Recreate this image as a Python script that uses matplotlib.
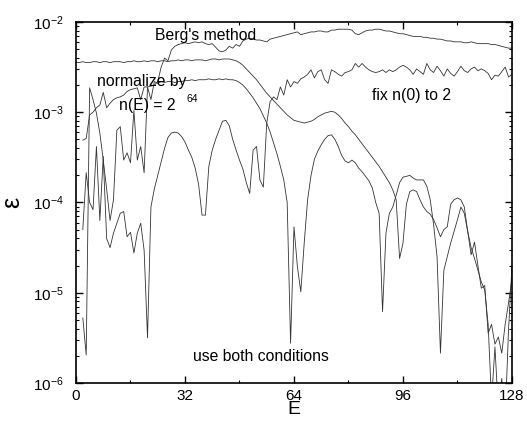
#!/usr/bin/env python3
"""Relative error of the density of states vs energy for four estimators."""

import numpy as np
import matplotlib
matplotlib.use('Agg')
import matplotlib.pyplot as plt
from matplotlib.ticker import MultipleLocator, FixedLocator, LogLocator

plt.rcParams.update({
    'font.family': ['Liberation Sans', 'DejaVu Sans'],
    'mathtext.fontset': 'custom',
    'mathtext.rm': 'Liberation Sans',
    'mathtext.it': 'Liberation Sans:italic',
    'font.size': 11,
    'axes.linewidth': 1.2,
})

# log10(epsilon), one value per integer E
NORM_E0 = 0
NORM_LOG = [
    -2.45, -2.45, -2.44, -2.45, -2.45, -2.44, -2.44, -2.45, -2.44, -2.44,
    -2.45, -2.44, -2.44, -2.44, -2.45, -2.44, -2.44, -2.43, -2.44, -2.44,
    -2.43, -2.44, -2.43, -2.43, -2.44, -2.43, -2.43, -2.44, -2.43, -2.43,
    -2.42, -2.43, -2.42, -2.42, -2.43, -2.42, -2.42, -2.42, -2.43, -2.42,
    -2.41, -2.41, -2.42, -2.41, -2.41, -2.41, -2.42, -2.43, -2.45, -2.48,
    -2.52, -2.56, -2.60, -2.64, -2.69, -2.74, -2.79, -2.83, -2.87, -2.91,
    -2.95, -2.99, -3.03, -3.06, -3.09, -3.10, -3.11, -3.12, -3.11, -3.10,
    -3.08, -3.05, -3.03, -3.01, -3.00, -2.99, -3.00, -3.03, -3.07, -3.12,
    -3.16, -3.21, -3.25, -3.30, -3.35, -3.40, -3.45, -3.50, -3.55, -3.60,
    -3.66, -3.72, -3.78, -3.86, -3.97, -4.62, -4.45, -4.02, -3.88, -3.86,
    -3.88, -3.97, -4.05, -4.10, -4.13, -4.19, -4.28, -4.38, -4.30, -4.27,
    -4.02, -3.97, -3.95, -3.97, -4.05, -4.32, -4.58, -4.44, -4.70, -4.95,
    -4.92, -5.45, -5.35, -5.57, -5.49, -5.67, -5.35, -5.11, -4.85,
]

BERG_E0 = 2
BERG_LOG = [
    -3.31, -3.29, -3.03, -3.00, -2.95, -2.92, -2.78, -2.95, -2.90, -2.86,
    -2.84, -2.83, -2.81, -2.77, -2.75, -2.74, -2.73, -2.86, -2.72, -2.72,
    -2.71, -2.70, -2.66, -2.50, -2.40, -2.43, -2.31, -2.27, -2.25, -2.24,
    -2.23, -2.24, -2.23, -2.22, -2.23, -2.22, -2.24, -2.25, -2.24, -2.28,
    -2.32, -2.33, -2.31, -2.27, -2.29, -2.25, -2.27, -2.21, -2.19, -2.18,
    -2.19, -2.20, -2.20, -2.21, -2.22, -2.19, -2.18, -2.17, -2.16, -2.15,
    -2.14, -2.13, -2.12, -2.11, -2.14, -2.13, -2.12, -2.11, -2.11, -2.10,
    -2.10, -2.11, -2.11, -2.09, -2.09, -2.08, -2.08, -2.08, -2.08, -2.09,
    -2.13, -2.14, -2.12, -2.10, -2.09, -2.09, -2.08, -2.08, -2.09, -2.10,
    -2.10, -2.11, -2.12, -2.13, -2.13, -2.14, -2.15, -2.16, -2.16, -2.16,
    -2.17, -2.17, -2.18, -2.18, -2.19, -2.19, -2.20, -2.21, -2.21, -2.22,
    -2.22, -2.22, -2.23, -2.23, -2.22, -2.23, -2.24, -2.24, -2.24, -2.24,
    -2.25, -2.25, -2.26, -2.27, -2.28, -2.29, -2.29,
]

FIX_E0 = 2
FIX_LOG = [
    -4.30, -3.67, -4.00, -4.08, -3.38, -4.20, -3.49, -4.40, -4.50, -4.34,
    -4.23, -4.12, -4.10, -4.38, -4.33, -4.56, -4.34, -4.23, -4.53, -5.50,
    -4.05, -3.85, -3.70, -3.55, -3.40, -3.28, -3.23, -3.22, -3.23, -3.27,
    -3.33, -3.42, -3.50, -3.62, -3.80, -4.14, -4.14, -3.60, -3.42, -3.30,
    -3.20, -3.10, -3.09, -3.15, -3.30, -3.42, -3.53, -3.63, -3.78, -3.90,
    -3.42, -3.38, -3.75, -3.83, -3.12, -2.88, -2.83, -2.86, -2.72, -2.81,
    -2.64, -2.72, -2.66, -2.68, -2.63, -2.61, -2.58, -2.53, -2.62, -2.55,
    -2.53, -2.64, -2.68, -2.53, -2.55, -2.58, -2.60, -2.56, -2.55, -2.53,
    -2.46, -2.50, -2.46, -2.50, -2.53, -2.55, -2.56, -2.55, -2.53, -2.56,
    -2.53, -2.55, -2.53, -2.50, -2.48, -2.50, -2.53, -2.58, -2.52, -2.55,
    -2.58, -2.46, -2.53, -2.56, -2.49, -2.54, -2.60, -2.52, -2.57, -2.60,
    -2.55, -2.49, -2.54, -2.56, -2.52, -2.50, -2.54, -2.52, -2.54, -2.57,
    -2.64, -2.59, -2.60, -2.55, -2.50, -2.61, -2.58,
]

BOTH_E0 = 2
BOTH_LOG = [
    -5.28, -5.69, -2.73, -2.86, -3.01, -3.23, -3.53, -3.85, -4.20, -3.97,
    -3.20, -3.16, -3.53, -3.45, -3.56, -2.98, -3.53, -3.38, -3.67, -2.72,
    -2.86, -2.66, -2.68, -2.66, -2.67, -2.66, -2.66, -2.67, -2.66, -2.66,
    -2.65, -2.65, -2.64, -2.65, -2.64, -2.64, -2.64, -2.63, -2.64, -2.64,
    -2.63, -2.64, -2.63, -2.64, -2.64, -2.65, -2.67, -2.70, -2.74, -2.79,
    -2.84, -2.90, -2.96, -3.04, -3.12, -3.22, -3.34, -3.46, -3.60, -3.75,
    -4.00, -5.56, -4.27, -4.71, -4.99, -4.45, -3.97, -3.70, -3.52, -3.43,
    -3.36, -3.30, -3.26, -3.25, -3.30, -3.38, -3.48, -3.54, -3.56, -3.53,
    -3.56, -3.62, -3.66, -3.71, -3.76, -3.84, -4.00, -4.12, -5.21, -4.34,
    -4.12, -4.05, -3.92, -3.78, -3.72, -3.71, -3.70, -3.73, -3.75, -3.75,
    -3.75, -3.82, -3.97, -4.25, -4.60, -5.67, -4.75, -4.60, -4.45, -4.32,
    -4.19, -4.05, -4.12, -4.32, -4.50, -4.62, -4.75, -4.88, -4.97, -5.35,
    -6.20, -5.60, -6.30, -5.95, -6.40, -5.40, -4.70,
]

SERIES = [
    ("Berg's method", BERG_E0, BERG_LOG),
    ('normalize by n(E) = 2^64', NORM_E0, NORM_LOG),
    ('fix n(0) to 2', FIX_E0, FIX_LOG),
    ('use both conditions', BOTH_E0, BOTH_LOG),
]

X_TICKS = [0, 32, 64, 96, 128]


def make_figure():
    fig = plt.figure(figsize=(5.27, 4.21), dpi=100)
    ax = fig.add_axes([0.1442, 0.0903, 0.8273, 0.8575])

    for name, e0, logs in SERIES:
        eps = np.power(10.0, np.asarray(logs))
        energy = e0 + np.arange(len(eps))
        ax.plot(energy, eps, '-', color='#333333', lw=0.6)

    ax.set_yscale('log')
    ax.set_xlim(0, 128)
    ax.set_ylim(1e-6, 1e-2)
    ax.xaxis.set_major_locator(FixedLocator(X_TICKS))
    ax.xaxis.set_minor_locator(MultipleLocator(16))
    ax.yaxis.set_major_locator(LogLocator(base=10, numticks=10))
    ax.yaxis.set_minor_locator(LogLocator(base=10, subs=np.arange(2, 10),
                                          numticks=20))
    ax.tick_params(axis='both', which='major', direction='in', top=True,
                   right=True, length=5, width=1.0, labelsize=11)
    ax.tick_params(axis='both', which='minor', direction='in', top=True,
                   right=True, length=2.5, width=0.8)
    ax.tick_params(axis='y', which='major', pad=9)
    ax.tick_params(axis='x', which='major', pad=4)

    ax.set_xlabel('E', fontsize=14, labelpad=-1)
    ax.set_ylabel('ε', fontsize=18, rotation=90, labelpad=6)

    # curve labels
    ax.text(23.2, 10 ** -2.15, "Berg's method", fontsize=11.3, va='center')
    ax.text(6.2, 10 ** -2.654, 'normalize by', fontsize=11.3, va='center')
    ax.text(12.5, 10 ** -2.92, 'n(E) = 2', fontsize=11.3, va='center')
    ax.text(32.3, 10 ** -2.853, '64', fontsize=7.5, va='center')
    ax.text(86.9, 10 ** -2.82, 'fix n(0) to 2', fontsize=11.3, va='center')
    ax.text(34.4, 10 ** -5.71, 'use both conditions', fontsize=11.3,
            va='center')

    fig.savefig('out.png', dpi=100)
    plt.close(fig)


def main():
    make_figure()


if __name__ == '__main__':
    main()
